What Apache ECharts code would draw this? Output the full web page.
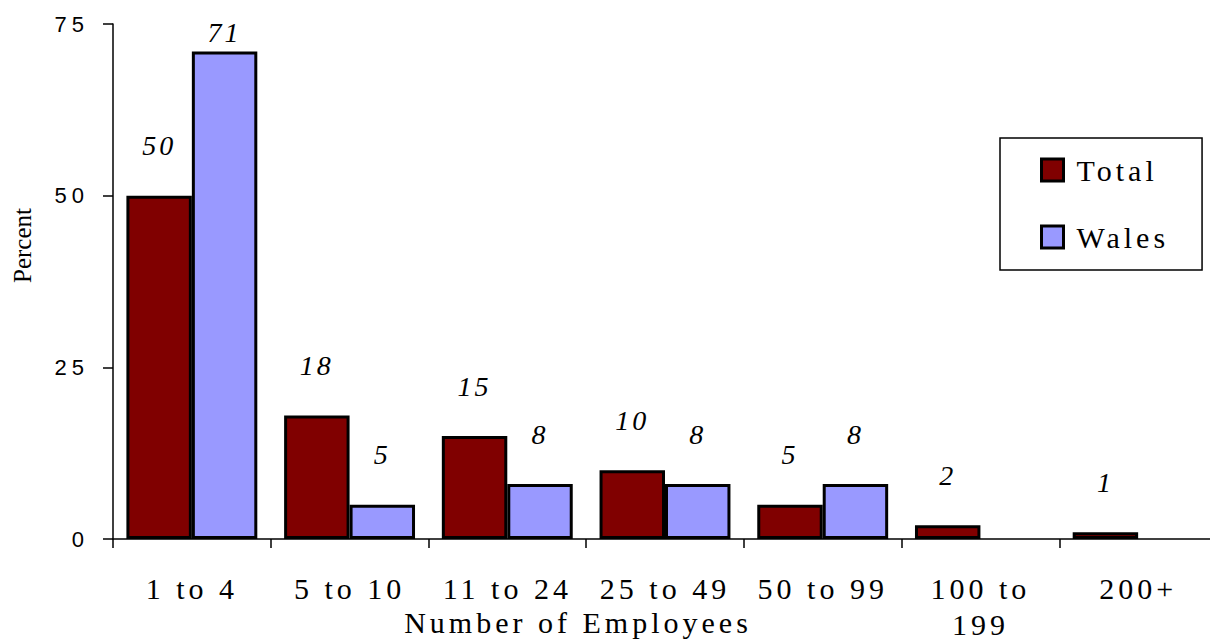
<!DOCTYPE html>
<html>
<head>
<meta charset="utf-8">
<script src="https://cdn.jsdelivr.net/npm/echarts@6/dist/echarts.min.js"></script>
<style>
  html, body { margin: 0; padding: 0; background: #fff; }
  #chart { width: 1210px; height: 640px; }
  /* wide-set lettering for the horizontal captions */
  #chart text[style*="30px"] { letter-spacing: 4px; }
  #chart text[style*="22px"] { letter-spacing: 5px; }
  #chart text[style*="italic"] { letter-spacing: 3px; }
</style>
</head>
<body>
<div id="chart"></div>
<script>
// Share of businesses by size band (number of employees)
const categories = ['1 to 4', '5 to 10', '11 to 24', '25 to 49', '50 to 99', '100 to\n199', '200+'];
const totalValues = [50, 18, 15, 10, 5, 2, 1];
const walesValues = [71, 5, 8, 8, 8, null, null];
const yTicks = { min: 0, max: 75, interval: 25 };

const SERIF = "'Liberation Serif', 'Times New Roman', serif";
const SANS = "'Liberation Sans', Arial, sans-serif";

// a label that would run past the top of the value axis is tucked down onto its bar
function barData(values) {
  return values.map(function (v) {
    if (v == null) return '-';
    if (v + 8 > yTicks.max) return { value: v, label: { distance: 5 } };
    return v;
  });
}

const labelStyle = {
  show: true,
  position: 'top',
  distance: 36,
  fontFamily: SERIF,
  fontStyle: 'italic',
  fontSize: 28,
  color: '#000'
};

const chart = echarts.init(document.getElementById('chart'), null, { renderer: 'svg' });
chart.setOption({
  animation: false,
  backgroundColor: '#fff',
  grid: { left: 113, right: -7, top: 24, bottom: 101, outerBoundsMode: 'none', containLabel: false },
  legend: {
    orient: 'vertical',
    left: 1000,
    top: 138,
    padding: [17, 53, 18, 40],
    itemWidth: 22,
    itemHeight: 22,
    itemGap: 37,
    borderColor: '#000',
    borderWidth: 1.5,
    icon: 'rect',
    itemStyle: { borderColor: '#000', borderWidth: 3 },
    textStyle: { fontFamily: SERIF, fontSize: 30, lineHeight: 22, color: '#000', padding: [0, 0, 0, 8] },
    data: ['Total', 'Wales']
  },
  xAxis: {
    type: 'category',
    data: categories,
    name: 'Number of Employees',
    nameLocation: 'middle',
    nameGap: 71,
    nameMoveOverlap: false,
    nameTextStyle: { fontFamily: SERIF, fontSize: 30, lineHeight: 25, color: '#000', padding: [0, 174, 0, 0] },
    axisLine: { lineStyle: { color: '#000', width: 1.5 } },
    axisTick: { show: true, length: 9, lineStyle: { color: '#000', width: 1.5 } },
    axisLabel: { interval: 0, margin: 31, fontFamily: SERIF, fontSize: 30, lineHeight: 36, color: '#000' }
  },
  yAxis: {
    type: 'value',
    min: yTicks.min,
    max: yTicks.max,
    interval: yTicks.interval,
    name: 'Percent',
    nameLocation: 'middle',
    nameGap: 78,
    nameMoveOverlap: false,
    nameTextStyle: { fontFamily: SERIF, fontSize: 25, lineHeight: 25, color: '#000', padding: [0, 0, 0, 72] },
    axisLine: { show: true, lineStyle: { color: '#000', width: 1.5 } },
    axisTick: { show: true, length: 10, lineStyle: { color: '#000', width: 1.5 } },
    splitLine: { show: false },
    axisLabel: { margin: 24, fontFamily: SANS, fontSize: 22, color: '#000' }
  },
  series: [
    {
      name: 'Total',
      type: 'bar',
      data: barData(totalValues),
      barGap: '0%',
      barCategoryGap: '17%',
      itemStyle: { color: '#800000', borderColor: '#000', borderWidth: 3 },
      label: labelStyle
    },
    {
      name: 'Wales',
      type: 'bar',
      data: barData(walesValues),
      itemStyle: { color: '#9999ff', borderColor: '#000', borderWidth: 3 },
      label: labelStyle
    }
  ]
});
</script>
</body>
</html>
